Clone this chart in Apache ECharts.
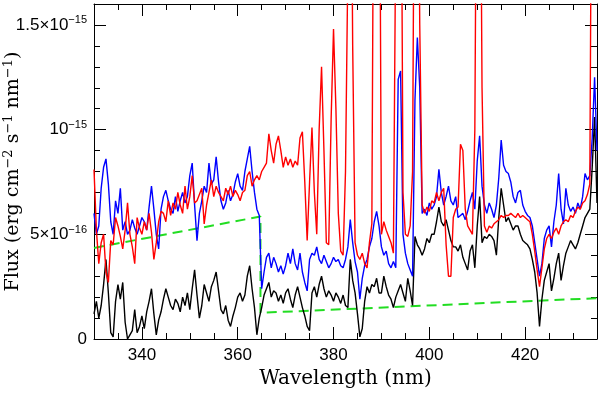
<!DOCTYPE html>
<html>
<head>
<meta charset="UTF-8">
<title>Flux spectrum</title>
<script src="https://cdn.jsdelivr.net/npm/echarts@6.0.0/dist/echarts.min.js"></script>
<style>
  html, body { margin: 0; padding: 0; background: #fff; }
  #main { width: 600px; height: 393px; }
</style>
</head>
<body>
<div id="main"></div>
<script>
var lambdaStart = 330;
var lambdaStep = 0.5;

// flux in units of 1e-16 erg cm^-2 s^-1 nm^-1 (one row = 5 nm)
var blackFlux = [
  1.2,1.8,1.0,1.6,2.6,3.8,2.2,0.3,0.1,1.8,
  2.6,1.9,2.7,0.8,0.0,0.2,0.4,1.4,0.3,0.6,
  1.1,0.5,1.3,1.8,2.4,1.2,0.2,0.9,1.3,1.9,
  2.4,2.0,1.6,1.4,1.9,1.7,1.3,2.0,1.6,2.2,
  1.4,2.4,3.3,2.1,1.0,1.6,2.6,2.2,1.8,2.5,
  2.8,3.2,2.3,1.4,1.2,1.6,0.9,0.6,1.1,1.5,
  2.0,2.2,1.8,2.1,3.0,3.5,2.4,1.5,0.2,1.0,
  1.5,2.1,2.4,2.7,2.0,2.3,2.2,1.8,2.1,1.7,
  2.2,2.4,1.9,1.5,2.1,2.5,2.0,1.5,1.1,0.6,
  0.4,2.2,2.5,2.0,2.6,3.0,2.4,2.0,2.3,2.1,
  1.8,2.2,2.0,1.7,2.1,1.6,1.5,3.8,2.8,2.2,
  1.2,0.1,0.5,1.8,2.5,2.2,2.6,2.5,2.9,2.2,
  2.2,3.0,2.5,2.1,1.9,1.5,2.0,2.3,2.6,2.2,
  1.8,2.9,2.3,1.6,4.9,4.5,4.3,4.0,4.3,4.8,
  4.6,5.0,5.0,5.6,6.3,5.6,5.4,5.7,5.2,4.7,
  4.4,4.4,4.2,4.5,3.9,3.6,3.3,4.2,4.5,3.4,
  5.4,6.8,4.6,4.9,4.8,5.0,4.9,4.7,4.0,5.8,
  7.2,6.4,5.6,5.8,5.5,5.2,5.4,5.4,5.0,4.7,
  4.6,4.5,4.3,3.8,3.2,2.2,0.6,1.9,2.8,3.2,
  3.6,2.3,2.9,3.6,4.1,2.8,3.5,4.1,4.4,4.7,
  4.5,4.3,4.6,5.0,5.4,5.8,6.0,6.2,8.2,10.6,
  6.5
];
var blueFlux = [
  6.0,5.0,5.4,7.2,8.2,8.6,7.4,5.6,5.0,6.6,
  6.0,7.2,5.2,5.6,5.0,5.2,5.7,5.3,5.0,5.4,
  5.8,5.6,5.2,6.3,7.3,6.2,5.0,4.3,6.2,6.8,
  7.1,6.6,6.2,6.0,6.8,6.1,6.6,7.0,6.5,6.8,
  7.8,8.4,6.4,4.7,6.0,6.6,7.3,7.0,8.4,7.4,
  7.6,8.7,7.5,6.6,6.2,6.5,7.1,6.6,6.9,7.5,
  7.9,7.3,7.1,8.0,8.6,9.2,8.0,7.0,6.2,5.9,
  2.4,3.2,3.9,4.1,3.4,3.9,3.6,3.2,3.5,3.1,
  3.5,4.1,3.6,4.3,3.6,3.3,4.1,3.2,2.7,2.3,
  3.8,4.1,4.0,4.4,3.8,3.6,4.0,3.7,3.4,3.6,
  3.9,3.7,3.8,3.5,3.4,3.8,4.4,5.7,4.6,3.7,
  3.2,1.9,2.9,3.5,3.8,4.4,4.8,5.6,6.1,5.4,
  4.4,4.0,4.2,3.6,3.4,3.7,3.4,12.4,12.8,5.0,
  4.1,3.6,3.3,3.0,11.4,14.4,12.0,6.0,6.2,5.9,
  6.5,6.2,6.4,6.8,8.1,7.0,6.4,6.8,7.3,6.6,
  6.4,6.8,5.8,5.9,6.0,5.7,6.1,6.6,7.0,6.2,
  8.5,9.7,7.3,6.4,6.0,6.5,6.2,5.8,6.4,7.7,
  9.5,8.3,8.0,7.9,7.5,6.8,6.5,7.0,7.1,6.4,
  6.1,5.9,5.8,5.4,4.6,3.8,3.0,3.6,4.8,5.2,
  5.4,4.4,5.6,6.4,7.9,6.2,5.5,7.2,6.4,6.1,
  6.3,6.0,6.5,6.2,6.8,7.9,7.6,7.8,9.6,12.5,
  9.0
];
// emission lines run off the top of the plot (30 = above the frame)
var redFlux = [
  8.1,5.2,3.6,4.6,5.0,3.2,2.7,4.7,4.5,5.8,
  5.4,4.9,4.3,5.2,6.5,5.0,4.4,3.6,5.8,5.3,
  5.0,5.6,5.2,6.0,5.1,3.8,4.6,5.6,6.1,6.0,
  5.6,6.6,5.9,6.5,6.2,7.0,6.4,6.0,7.3,6.2,
  6.8,7.8,6.5,6.6,6.9,7.2,5.5,6.4,7.0,7.6,
  6.8,7.3,7.0,6.8,6.6,7.2,6.9,7.3,6.8,7.1,
  6.9,6.6,7.0,7.1,7.8,8.0,7.3,7.6,7.8,7.6,
  8.0,8.2,8.4,9.8,9.0,8.4,9.3,9.7,9.0,8.2,
  8.7,8.3,8.6,8.2,8.5,8.3,9.6,9.9,7.5,4.7,
  7.5,10.1,7.0,5.0,10.0,13.0,9.0,4.6,4.5,10.5,
  14.8,11.0,6.0,4.2,4.0,8.0,18,30,14,4.6,
  4.0,3.8,4.1,3.6,3.4,4.6,5.5,30,30,30,
  5.0,5.6,5.2,4.9,4.6,4.1,20,30,30,7.0,
  5.0,4.9,5.4,8.0,30,30,15,6.4,6.0,6.3,
  6.1,6.6,6.5,7.0,6.6,7.0,7.2,4.5,3.0,3.0,
  5.8,6.2,6.3,9.3,9.0,6.2,5.4,5.2,5.0,10,
  30,30,12,5.4,5.1,5.4,5.3,5.5,5.6,5.7,
  5.9,5.8,5.9,5.9,6.0,5.9,5.8,6.0,5.8,5.9,
  5.8,5.7,5.6,5.0,4.2,3.3,2.5,3.4,4.3,4.8,
  5.0,4.8,5.1,5.3,5.0,5.4,5.6,5.7,5.6,5.9,
  5.8,6.1,6.3,6.2,6.5,6.6,6.9,7.4,30,30,
  30
];

// dashed green continuum
var contLambda = [330, 364.75, 364.75, 435];
var contFlux = [4.35, 5.85, 1.25, 1.95];

var xLabelValues = [340, 360, 380, 400, 420];
var yLabelValues = [0, 5, 10, 15];
var yLabelTexts = ['{n|0}', '{n|5×10}{s|−16}', '{n|10}{s|−15}', '{n|1.5×10}{s|−15}'];

var tickFont = 'Liberation Sans';
var nameFont = 'DejaVu Serif';

function pairs(values) {
  var out = [];
  for (var i = 0; i < values.length; i++) {
    out.push([lambdaStart + i * lambdaStep, values[i]]);
  }
  return out;
}

var frameLine = { show: true, onZero: false, lineStyle: { color: '#000', width: 1 } };
var noLine = { show: false, onZero: false };

function xAxes(pos, withLabels) {
  var minor = {
    type: 'value', position: pos, min: 330, max: 435, interval: 5,
    axisLine: frameLine,
    axisTick: { inside: true, length: 6, lineStyle: { color: '#000' } },
    axisLabel: { show: false },
    splitLine: { show: false }
  };
  var major = {
    type: 'value', position: pos, min: 330, max: 435,
    axisLine: noLine,
    axisTick: { inside: true, length: 12, customValues: xLabelValues, lineStyle: { color: '#000' } },
    axisLabel: withLabels ? {
      customValues: xLabelValues, margin: 8,
      fontFamily: tickFont, fontSize: 17, color: '#000'
    } : { show: false },
    splitLine: { show: false }
  };
  if (withLabels) {
    major.name = 'Wavelength (nm)';
    major.nameLocation = 'middle';
    major.nameGap = 30;
    major.nameMoveOverlap = false;
    major.nameTextStyle = { fontFamily: nameFont, fontSize: 20, color: '#000' };
  }
  return [minor, major];
}

var richStyles = {
  n: { fontFamily: tickFont, fontSize: 17, lineHeight: 20, color: '#000' },
  s: { fontFamily: tickFont, fontSize: 11, lineHeight: 11, verticalAlign: 'top', color: '#000' }
};
var nameRich = {
  n: { fontFamily: nameFont, fontSize: 19, lineHeight: 23, color: '#000' },
  s: { fontFamily: nameFont, fontSize: 13, lineHeight: 13, verticalAlign: 'top', color: '#000' }
};

function yAxis(pos, withLabels) {
  var ax = {
    type: 'value', position: pos, min: 0, max: 16, interval: 5,
    axisLine: frameLine,
    axisTick: { inside: true, length: 12, lineStyle: { color: '#000' } },
    minorTick: { show: true, splitNumber: 5, length: 6, lineStyle: { color: '#000' } },
    splitLine: { show: false },
    minorSplitLine: { show: false },
    axisLabel: withLabels ? {
      margin: 7,
      formatter: function (v) {
        var k = yLabelValues.indexOf(v);
        return k < 0 ? '' : yLabelTexts[k];
      },
      rich: richStyles
    } : { show: false }
  };
  if (withLabels) {
    ax.name = '{n|Flux (erg cm}{s|−2}{n| s}{s|−1}{n| nm}{s|−1}{n|)}';
    ax.nameLocation = 'middle';
    ax.nameRotate = 90;
    ax.nameGap = 69;
    ax.nameMoveOverlap = false;
    ax.nameTextStyle = { rich: nameRich };
  }
  return ax;
}

var chart = echarts.init(document.getElementById('main'), null, { renderer: 'canvas' });

var option = {
  animation: false,
  backgroundColor: '#fff',
  grid: { left: 94, right: 3, top: 4, bottom: 54, containLabel: false, outerBoundsMode: 'none' },
  xAxis: xAxes('bottom', true).concat(xAxes('top', false)),
  yAxis: [yAxis('left', true), yAxis('right', false)],
  series: [
    {
      type: 'line', symbol: 'none', silent: true,
      data: contLambda.map(function (x, i) { return [x, contFlux[i]]; }),
      lineStyle: { color: '#22dd22', width: 2, type: [10, 6] }
    },
    {
      type: 'line', data: pairs(blackFlux), symbol: 'none', silent: true,
      lineStyle: { color: '#000000', width: 1.4 }
    },
    {
      type: 'line', data: pairs(blueFlux), symbol: 'none', silent: true,
      lineStyle: { color: '#0000ff', width: 1.4 }
    },
    {
      type: 'line', data: pairs(redFlux), symbol: 'none', silent: true,
      lineStyle: { color: '#ff0000', width: 1.4 }
    }
  ]
};

chart.setOption(option);
</script>
</body>
</html>
